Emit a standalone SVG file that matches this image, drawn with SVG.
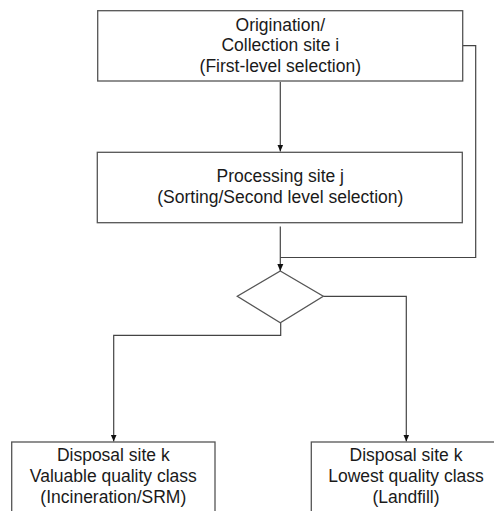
<svg xmlns="http://www.w3.org/2000/svg" width="494" height="511" viewBox="0 0 494 511">
<defs>
<marker id="arr" markerWidth="8" markerHeight="8" refX="7" refY="4" orient="auto" markerUnits="userSpaceOnUse">
<path d="M0,1 L7,4 L0,7 Z" fill="#111"/>
</marker>
<style>
.box{fill:#fff;stroke:#555;stroke-width:1.3}
.ln{fill:none;stroke:#444;stroke-width:1.2}
text{font-family:"Liberation Sans",Arial,sans-serif;font-size:17.5px;fill:#1a1a1a;text-anchor:middle}
</style>
</defs>
<rect width="494" height="511" fill="#fff"/>
<g id="connectors">
<path class="ln" d="M280.3,82 V151.5" marker-end="url(#arr)"/>
<path class="ln" d="M463,45.7 H475.7 V257.5 H280.3"/>
<path class="ln" d="M280.3,226.5 V271" marker-end="url(#arr)"/>
<path class="ln" d="M323.3,296.3 H406.3 V441.5" marker-end="url(#arr)"/>
<path class="ln" d="M280.7,322.7 V335.3 H113.7 V441.5" marker-end="url(#arr)"/>
</g>
<g id="origination">
<rect class="box" x="97.7" y="10.7" width="365" height="70.3"/>
<text x="280.3" y="30.7">Origination/</text>
<text x="280.3" y="51.2">Collection site i</text>
<text x="280.3" y="71.7">(First-level selection)</text>
</g>
<g id="processing">
<rect class="box" x="97.3" y="152.3" width="365" height="70.4"/>
<text x="280.3" y="181.7">Processing site j</text>
<text x="280.3" y="202.7">(Sorting/Second level selection)</text>
</g>
<g id="decision">
<polygon class="box" points="280.3,271 323.3,296.3 280.3,322.7 237.3,296.3"/>
</g>
<g id="disposal-valuable">
<rect class="box" x="11.7" y="442" width="203.3" height="80"/>
<text x="113.3" y="460.7">Disposal site k</text>
<text x="113.3" y="482">Valuable quality class</text>
<text x="113.3" y="503.3">(Incineration/SRM)</text>
</g>
<g id="disposal-lowest">
<rect class="box" x="311.3" y="442" width="203.3" height="80"/>
<text x="406" y="460.7">Disposal site k</text>
<text x="406" y="482">Lowest quality class</text>
<text x="406" y="503.3">(Landfill)</text>
</g>
</svg>
